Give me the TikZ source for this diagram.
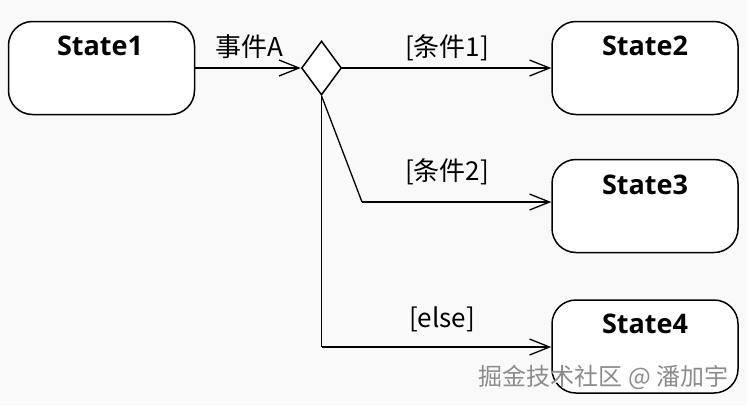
\documentclass[tikz,border=0pt]{standalone}
\usepackage{fontspec}
\setmainfont{Noto Sans}
\newfontfamily\cjk{Noto Sans CJK SC}
\newfontfamily\statefont{Open Sans}
\usetikzlibrary{shapes.geometric,arrows.meta}
\begin{document}
\begin{tikzpicture}[x=1pt,y=-1pt,
  statebox/.style={draw, line width=1.5pt, rounded corners=24pt, fill=white,
    minimum width=186pt, minimum height=93pt, inner sep=0pt},
  sname/.style={font=\statefont\bfseries\fontsize{27}{30}\selectfont, inner sep=0pt},
  choice/.style={draw, diamond, line width=1.5pt, fill=white, inner sep=0pt,
    minimum width=40pt, minimum height=54pt},
  trans/.style={line width=1.3pt, -{Straight Barb[length=20pt,width=16pt,line width=1.3pt]}},
  seg/.style={line width=1.3pt},
  lab/.style={font=\cjk\fontsize{26}{29}\selectfont, inner sep=0pt},
  wm/.style={font=\cjk\fontsize{24}{28}\selectfont, inner sep=0pt}
]
\fill[white!97.5!black] (0,0) rectangle (747,405);
\useasboundingbox (0,0) rectangle (747,405);

\node[statebox] (s1) at (101.5,68) {};
\node[statebox] (s2) at (645,68) {};
\node[statebox] (s3) at (645,206) {};
\node[statebox] (s4) at (645,346.5) {};

\node[sname] (n1) at (100,46) {State1};
\node[sname] (n2) at (645,46) {State2};
\node[sname] (n3) at (645,185) {State3};
\node[sname] (n4) at (645,324) {State4};

\node[choice] (d) at (321.5,68) {};

\coordinate (c2) at (362,202);
\coordinate (c4) at (321.5,347);

\draw[trans] (s1.east) -- (d.west);
\draw[trans] (d.east) -- (s2.west);
\draw[seg] (d.south) -- (c2);
\draw[trans] (c2) -- (s3.west |- c2);
\draw[seg] (d.south) -- (c4);
\draw[trans] (c4) -- (s4.west |- c4);

\node[lab] (la) at (249,47) {事件A};
\node[lab] (l1) at (447,48) {[条件1]};
\node[lab] (l2) at (447,172) {[条件2]};
\node[lab] (l3) at (442,319) {[else]};

\node[wm, text=white] at (604.5,378.5) {掘金技术社区 @ 潘加宇};
\node[wm, text=black!45] (w) at (603.5,377.5) {掘金技术社区 @ 潘加宇};
\end{tikzpicture}
\end{document}
